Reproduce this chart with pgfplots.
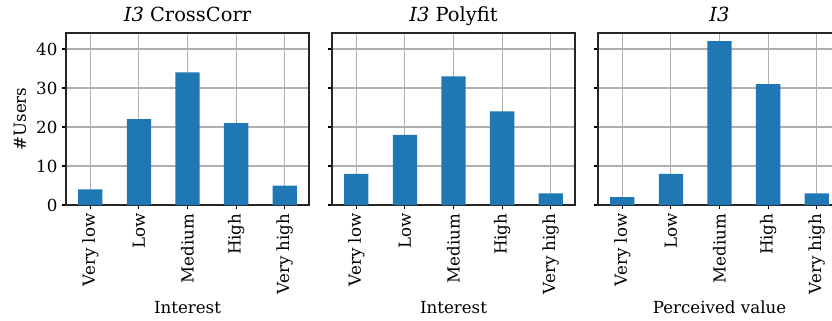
\documentclass[border=0pt]{standalone}
\usepackage{pgfplots}
\pgfplotsset{compat=1.18}
\usepackage{fontspec}
\setmainfont{DejaVu Serif}
\definecolor{barblue}{HTML}{1F77B4}
\definecolor{gridgray}{HTML}{B0B0B0}

\pgfplotsset{
  panel/.style={
    scale only axis,
    width=174.96pt, height=123.84pt,
    anchor=south west,
    xmin=-0.5, xmax=4.5, ymin=0, ymax=44.1,
    xtick={0,1,2,3,4},
    xticklabels={Very low,Low,Medium,High,Very high},
    ytick={0,10,20,30,40},
    tick pos=left,
    tick align=outside,
    major tick length=3pt,
    every tick/.style={black, line width=0.8pt},
    axis line style={black!85, line width=0.8pt},
    grid=major,
    grid style={gridgray, line width=0.8pt},
    /pgf/number format/assume math mode=true,
    ticklabel style={font=\fontsize{12}{14}\selectfont},
    xticklabel style={rotate=90, anchor=east, inner sep=0pt, xshift=-3pt},
    yticklabel style={inner sep=0pt, xshift=-3pt},
    label style={font=\fontsize{12}{14}\selectfont},
    xlabel style={at={(axis description cs:0.5,0)}, anchor=base, yshift=-78pt},
    title style={font=\fontsize{14}{16}\selectfont, at={(axis description cs:0.5,1)}, anchor=base, yshift=2.2pt},
    ybar, bar width=0.5, bar shift=0pt,
  },
  bars/.style={fill=barblue, draw=none},
}

\begin{document}
\begin{tikzpicture}
\path[use as bounding box] (0,0) rectangle (599.04pt,230.4pt);
\clip (0,0) rectangle (599.04pt,230.4pt);

% Interest, cross-correlation variant
\begin{axis}[panel, at={(47.52pt,82.8pt)},
  title={\textit{I3} CrossCorr}, xlabel={Interest}, ylabel={\#Users},
  ylabel style={at={(axis description cs:-0.1893,0.5)}, anchor=center}]
\addplot[bars] coordinates {(0,4) (1,22) (2,34) (3,21) (4,5)};
\end{axis}

% Interest, polynomial-fit variant
\begin{axis}[panel, at={(239.04pt,82.8pt)}, yticklabels={},
  title={\textit{I3} Polyfit}, xlabel={Interest}]
\addplot[bars] coordinates {(0,8) (1,18) (2,33) (3,24) (4,3)};
\end{axis}

% Perceived value
\begin{axis}[panel, at={(430.56pt,82.8pt)}, yticklabels={},
  title={\textit{I3}}, xlabel={Perceived value}]
\addplot[bars] coordinates {(0,2) (1,8) (2,42) (3,31) (4,3)};
\end{axis}
\end{tikzpicture}
\end{document}
